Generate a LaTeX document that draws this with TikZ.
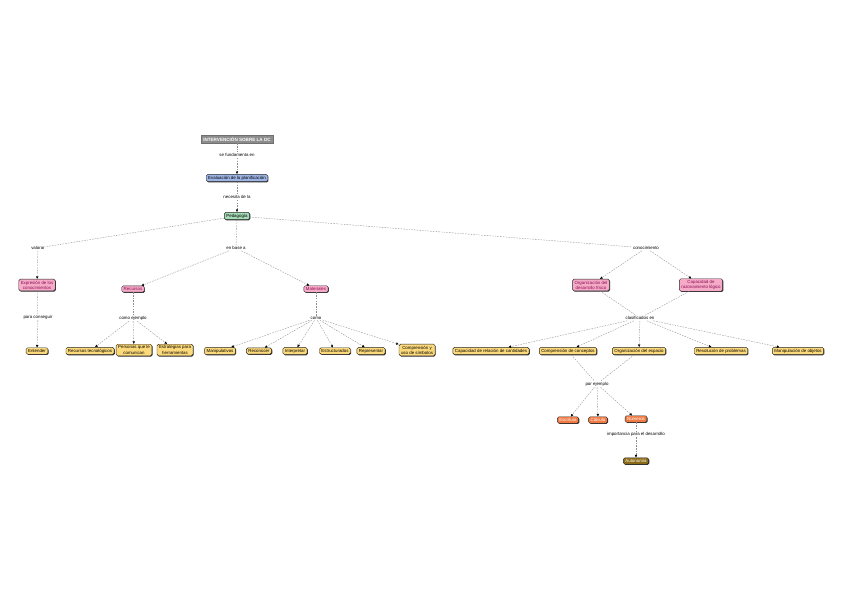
\documentclass[tikz,border=0pt]{standalone}
\usepackage{fontspec}
\setmainfont{Liberation Sans}
\usetikzlibrary{arrows.meta,shadows}
\definecolor{cgray}{HTML}{8C8C8C}
\definecolor{cblue}{HTML}{9DB4E4}
\definecolor{cgreen}{HTML}{A6DCB8}
\definecolor{cpink}{HTML}{F5AAC8}
\definecolor{cpinktxt}{HTML}{8A1050}
\definecolor{cyellow}{HTML}{FCD97A}
\definecolor{corange}{HTML}{F07A44}
\definecolor{cbrown}{HTML}{8B6B17}
\begin{document}
\begin{tikzpicture}[x=1bp,y=-1bp,
  font=\fontsize{4.4}{5.2}\selectfont,
  box/.style={draw=black!85, rounded corners=1.5bp, line width=0.4bp, inner xsep=2bp, inner ysep=1.6bp, align=center,
    drop shadow={shadow xshift=0.7bp, shadow yshift=-0.7bp, fill=black, opacity=0.8}},
  titlebox/.style={fill=cgray, draw=cgray!80!black, line width=0.3bp, text=white, font=\fontsize{4.6}{5.2}\selectfont\bfseries, inner xsep=2bp, inner ysep=2bp},
  blue/.style={box, fill=cblue},
  green/.style={box, fill=cgreen},
  pink/.style={box, fill=cpink, text=cpinktxt},
  yellow/.style={box, fill=cyellow},
  orange/.style={box, fill=corange, text=white},
  brown/.style={box, fill=cbrown, text=white},
  link/.style={inner sep=1bp, fill=white, align=center},
  edge/.style={draw=black!45, line width=0.35bp, dash pattern=on 1.6bp off 1.1bp},
  arr/.style={edge, -{Latex[length=2.6bp,width=2.6bp,color=black]}}
]
\useasboundingbox (0,0) rectangle (848,599);

% top chain
\node[titlebox] (t) at (237,139) {INTERVENCIÓN SOBRE LA DC};
\node[link] (l1) at (237,155) {se fundamenta en};
\node[blue] (ev) at (237,178) {Evaluación de la planificación};
\node[link] (l2) at (237,197) {necesita de la};
\node[green] (ped) at (237,216) {Pedagogía};

\draw[edge] (t) -- (l1);
\draw[arr] (l1) -- (ev);
\draw[edge] (ev) -- (l2);
\draw[arr] (l2) -- (ped);

% link phrases from Pedagogía
\node[link] (lv) at (38,248) {valorar};
\node[link] (lb) at (236,248) {en base a};
\node[link] (lc) at (646,248) {conocimiento};
\draw[edge] (ped) -- (lv);
\draw[edge] (ped) -- (lb);
\draw[edge] (ped) -- (lc);

% left branch
\node[pink] (exp) at (37,285) {Expresión de los\\conocimientos};
\node[link] (lpc) at (38,317) {para conseguir};
\node[yellow] (ent) at (37,351) {Entender};
\draw[arr] (lv) -- (exp);
\draw[edge] (exp) -- (lpc);
\draw[arr] (lpc) -- (ent);

% Recursos branch
\node[pink] (rec) at (133,289) {Recursos};
\node[link] (lce) at (133,318) {como ejemplo};
\node[yellow] (r1) at (90,351) {Recursos tecnológicos};
\node[yellow] (r2) at (134,350) {Personas que le\\comunican};
\node[yellow] (r3) at (175,350) {Estrategias para\\herramientas};
\draw[arr] (lb) -- (rec);
\draw[edge] (rec) -- (lce);
\draw[arr] (lce) -- (r1);
\draw[arr] (lce) -- (r2);
\draw[arr] (lce) -- (r3);

% Materiales branch
\node[pink] (mat) at (316,289) {Materiales};
\node[link] (lco) at (316,318) {como};
\node[yellow] (m1) at (220,351) {Manipulativos};
\node[yellow] (m2) at (259,351) {Reconocer};
\node[yellow] (m3) at (295,351) {Interpretar};
\node[yellow] (m4) at (335,351) {Estructurados};
\node[yellow] (m5) at (371,351) {Representar};
\node[yellow] (m6) at (417,350) {Comprensión y\\uso de símbolos};
\draw[arr] (lb) -- (mat);
\draw[edge] (mat) -- (lco);
\foreach \m in {m1,m2,m3,m4,m5,m6} \draw[arr] (lco) -- (\m);

% right branch
\node[pink] (org) at (591,285) {Organización del\\desarrollo físico};
\node[pink] (cap) at (701,285) {Capacidad de\\razonamiento lógico};
\draw[arr] (lc) -- (org);
\draw[arr] (lc) -- (cap);
\node[link] (lcl) at (640,318) {clasificados en};
\draw[edge] (org) -- (lcl);
\draw[edge] (cap) -- (lcl);
\node[yellow] (y1) at (491,351) {Capacidad de relación de cantidades};
\node[yellow] (y2) at (568,351) {Comprensión de conceptos};
\node[yellow] (y3) at (639,351) {Organización del espacio};
\node[yellow] (y4) at (721,351) {Resolución de problemas};
\node[yellow] (y5) at (798,351) {Manipulación de objetos};
\foreach \y in {y1,y2,y3,y4,y5} \draw[arr] (lcl) -- (\y);

\node[link] (lpe) at (597,384) {por ejemplo};
\draw[edge] (y2) -- (lpe);
\draw[edge] (y3) -- (lpe);
\node[orange] (o1) at (568,420) {Escritura};
\node[orange] (o2) at (598,420) {Cálculo};
\node[orange] (o3) at (636,419) {Números};
\draw[arr] (lpe) -- (o1);
\draw[arr] (lpe) -- (o2);
\draw[arr] (lpe) -- (o3);

\node[link] (lim) at (636,434) {importancia para el desarrollo};
\node[brown] (aut) at (636,461) {Autonomía};
\draw[edge] (o3) -- (lim);
\draw[arr] (lim) -- (aut);
\end{tikzpicture}
\end{document}
